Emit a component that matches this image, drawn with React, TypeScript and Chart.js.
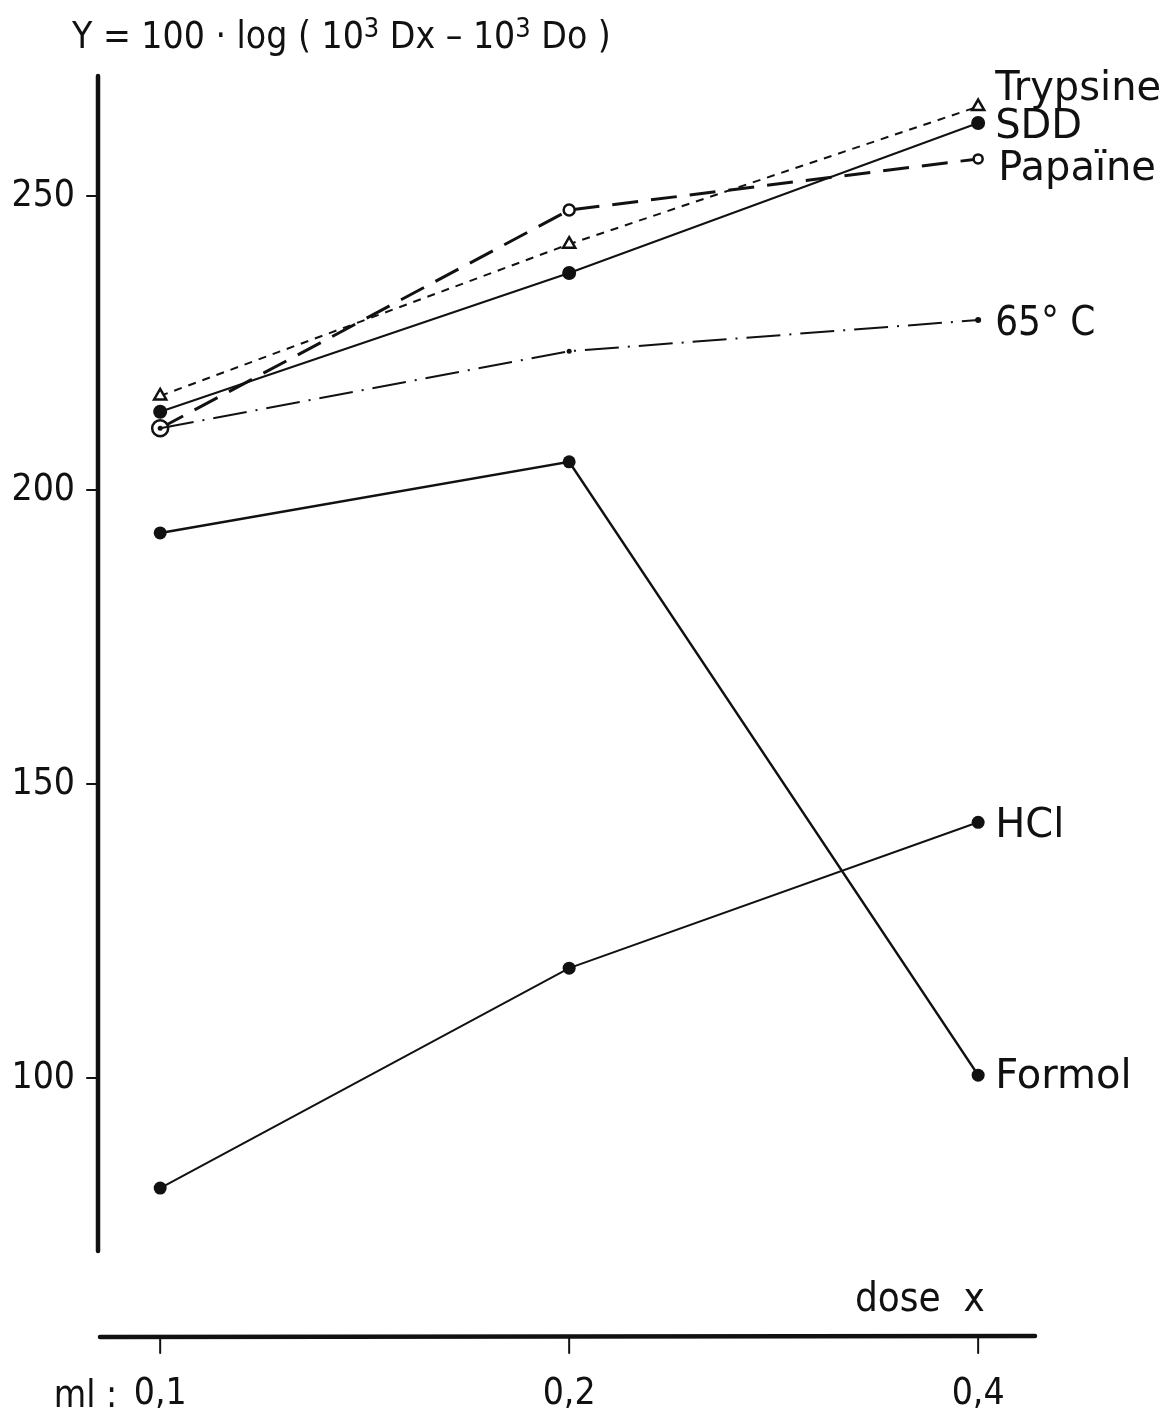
import React, { useEffect, useRef } from 'react';
import { Chart, registerables } from 'chart.js';

Chart.register(...registerables);

// ---- data ----
const doses = ['0,1', '0,2', '0,4'];
const yTickValues = [100, 150, 200, 250];
const trypsine = [216.0, 241.8, 265.2];
const sdd = [213.3, 236.9, 262.4];
const papaine = [210.5, 247.6, 256.3];
const heat65 = [210.5, 223.6, 228.9];
const formol = [192.7, 204.8, 100.5];
const hcl = [81.3, 118.7, 143.5];
const seriesNames = ['Trypsine', 'SDD', 'Papaïne', '65° C', 'HCl', 'Formol'];

const FONT = '"DejaVu Sans Condensed", "DejaVu Sans", sans-serif';
const FONT_WIDE = '"DejaVu Sans", sans-serif';
const INK = '#111111';

const toPts = (vals: number[]) => vals.map((v, i) => ({ x: i, y: v }));

const decorPlugin = {
  id: 'decor',
  afterDraw(chart: any) {
    const { ctx, chartArea, scales } = chart;
    const xs = scales.x;
    const ys = scales.y;
    ctx.save();
    ctx.strokeStyle = INK;
    ctx.fillStyle = INK;
    ctx.lineCap = 'round';

    // y axis line
    ctx.lineWidth = 4.5;
    ctx.beginPath();
    ctx.moveTo(chartArea.left, chartArea.top);
    ctx.lineTo(chartArea.left, chartArea.bottom);
    ctx.stroke();
    // y tick marks
    ctx.lineWidth = 2;
    yTickValues.forEach((v) => {
      const y = ys.getPixelForValue(v);
      ctx.beginPath();
      ctx.moveTo(chartArea.left - 11, y);
      ctx.lineTo(chartArea.left, y);
      ctx.stroke();
    });

    // x axis line (detached, below the plot)
    const axisY = chartArea.bottom + 86;
    ctx.lineWidth = 4.5;
    ctx.beginPath();
    ctx.moveTo(chartArea.left + 2, axisY);
    ctx.lineTo(chartArea.right, axisY - 1);
    ctx.stroke();
    ctx.lineWidth = 2;
    doses.forEach((_, i) => {
      const x = xs.getPixelForValue(i);
      ctx.beginPath();
      ctx.moveTo(x, axisY);
      ctx.lineTo(x, axisY + 16);
      ctx.stroke();
    });

    ctx.textBaseline = 'alphabetic';
    // dose x
    ctx.font = `40px ${FONT}`;
    ctx.textAlign = 'left';
    ctx.fillText('dose  x', 855, axisY - 26);
    // ml :
    ctx.font = `37px ${FONT}`;
    ctx.textAlign = 'right';
    ctx.fillText('ml :', xs.getPixelForValue(0) - 43, chartArea.bottom + 156);

    // title with superscripts
    const segs: [string, boolean][] = [
      ['Y = 100 · log ( 10', false],
      ['3', true],
      [' Dx – 10', false],
      ['3', true],
      [' Do )', false],
    ];
    let tx = 72;
    const baseY = 48;
    ctx.textAlign = 'left';
    segs.forEach(([t, sup]) => {
      ctx.font = sup ? `27px ${FONT}` : `37px ${FONT}`;
      ctx.fillText(t, tx, sup ? baseY - 11 : baseY);
      tx += ctx.measureText(t).width;
    });

    // series labels at the right end
    ctx.textAlign = 'left';
    const lastVals = [trypsine[2], sdd[2], papaine[2], heat65[2], hcl[2], formol[2]];
    const dy = [-22, 0, 6, 0, 0, -2];
    const dx = [17, 17, 20, 17, 17, 17];
    const xEnd = xs.getPixelForValue(2);
    seriesNames.forEach((name, i) => {
      ctx.font = i === 3 ? `40px ${FONT}` : `40px ${FONT_WIDE}`;
      const y = ys.getPixelForValue(lastVals[i]) + dy[i] + 15;
      ctx.fillText(name, xEnd + dx[i], y);
    });

    ctx.restore();
  },
};

export default function App() {
  const ref = useRef<HTMLCanvasElement | null>(null);

  useEffect(() => {
    if (!ref.current) return;
    const base = {
      borderColor: INK,
      pointBorderColor: INK,
      fill: false,
      tension: 0,
    };
    const chart = new Chart(ref.current, {
      type: 'line',
      data: {
        datasets: [
          {
            ...base,
            label: seriesNames[0],
            data: toPts(trypsine),
            borderWidth: 2,
            borderDash: [8, 7],
            pointStyle: 'triangle',
            pointRadius: 7,
            pointBorderWidth: 2.5,
            pointBackgroundColor: '#ffffff',
            order: 3,
          },
          {
            ...base,
            label: seriesNames[1],
            data: toPts(sdd),
            borderWidth: 2,
            pointStyle: 'circle',
            pointRadius: 7,
            pointBorderWidth: 0,
            pointBackgroundColor: INK,
            order: 2,
          },
          {
            ...base,
            label: seriesNames[2],
            data: toPts(papaine),
            borderWidth: 3,
            borderDash: [26, 13],
            pointStyle: 'circle',
            pointRadius: [8, 5.5, 4.5],
            pointBorderWidth: 2.5,
            pointBackgroundColor: '#ffffff',
            order: 4,
          },
          {
            ...base,
            label: seriesNames[3],
            data: toPts(heat65),
            borderWidth: 2,
            borderDash: [34, 9, 2, 9],
            pointStyle: 'circle',
            pointRadius: [2.5, 2.5, 3],
            pointBorderWidth: 0,
            pointBackgroundColor: INK,
            order: 1,
          },
          {
            ...base,
            label: seriesNames[4],
            data: toPts(hcl),
            borderWidth: 2,
            pointStyle: 'circle',
            pointRadius: 6.5,
            pointBorderWidth: 0,
            pointBackgroundColor: INK,
            order: 5,
          },
          {
            ...base,
            label: seriesNames[5],
            data: toPts(formol),
            borderWidth: 2.5,
            pointStyle: 'circle',
            pointRadius: 6.5,
            pointBorderWidth: 0,
            pointBackgroundColor: INK,
            order: 6,
          },
        ],
      },
      options: {
        animation: false,
        responsive: false,
        maintainAspectRatio: false,
        layout: { padding: { top: 76, left: 8, right: 133, bottom: 0 } },
        plugins: {
          legend: { display: false },
          tooltip: { enabled: false },
          title: { display: false },
        },
        scales: {
          x: {
            type: 'linear',
            min: -0.152,
            max: 2.139,
            grid: { display: false },
            border: { display: false },
            afterBuildTicks: (s: any) => {
              s.ticks = doses.map((_, i) => ({ value: i }));
            },
            afterFit: (s: any) => {
              s.height = 165;
            },
            ticks: {
              color: INK,
              padding: 113,
              maxRotation: 0,
              autoSkip: false,
              font: { family: FONT, size: 37 },
              callback: (v: any) => doses[v] ?? '',
            },
          },
          y: {
            type: 'linear',
            min: 70.6,
            max: 270.4,
            grid: { display: false },
            border: { display: false },
            afterBuildTicks: (s: any) => {
              s.ticks = yTickValues.map((v) => ({ value: v }));
            },
            afterFit: (s: any) => {
              s.width = 90;
            },
            ticks: {
              color: INK,
              padding: 15,
              font: { family: FONT, size: 37 },
              callback: (v: any) => String(v),
            },
          },
        },
      },
      plugins: [decorPlugin],
    } as any);
    return () => chart.destroy();
  }, []);

  return (
    <div style={{ position: 'absolute', left: 0, top: 0, width: 1168, height: 1416, background: '#fff' }}>
      <canvas ref={ref} width={1168} height={1416} style={{ width: 1168, height: 1416, display: 'block' }} />
    </div>
  );
}
